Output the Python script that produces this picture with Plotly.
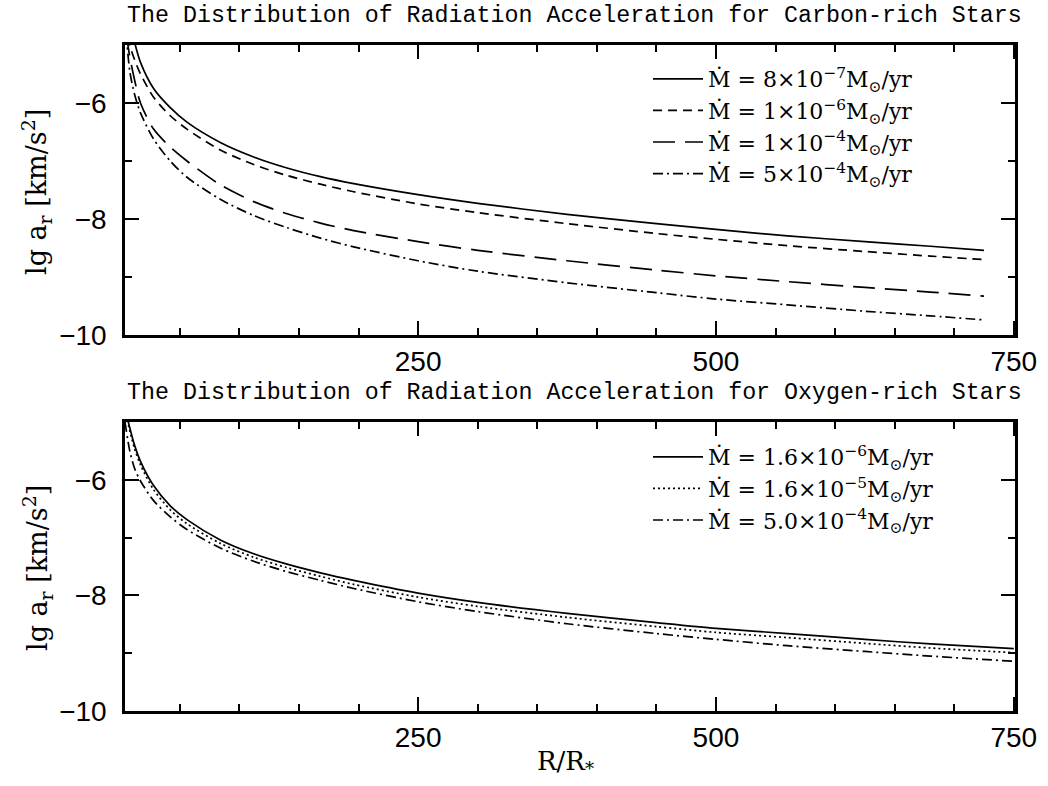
import plotly.graph_objects as go

# ---------------- data ----------------
x_carbon = [5, 8, 12, 17, 28, 42, 56, 84, 112, 140, 168, 196, 250, 300, 375, 450, 500, 560, 625, 680, 725]
c_8e7 = [-4.3, -4.6, -4.95, -5.3, -5.75, -6.08, -6.33, -6.68, -6.93, -7.12, -7.27, -7.39, -7.58, -7.73, -7.92, -8.08, -8.18, -8.29, -8.39, -8.47, -8.54]
c_1e6 = [-4.6, -5.0, -5.25, -5.5, -5.9, -6.22, -6.45, -6.81, -7.06, -7.25, -7.40, -7.53, -7.74, -7.89, -8.08, -8.25, -8.35, -8.46, -8.56, -8.64, -8.70]
c_1e4 = [-4.8, -5.2, -5.6, -6.0, -6.45, -6.76, -7.0, -7.41, -7.70, -7.91, -8.07, -8.20, -8.39, -8.54, -8.72, -8.88, -8.98, -9.08, -9.18, -9.26, -9.33]
c_5e4 = [-4.8, -5.45, -5.85, -6.17, -6.62, -7.0, -7.28, -7.66, -7.94, -8.15, -8.33, -8.48, -8.72, -8.90, -9.10, -9.27, -9.38, -9.48, -9.59, -9.67, -9.74]

x_oxygen = [4, 8, 12, 17, 28, 42, 56, 84, 112, 140, 168, 196, 250, 300, 375, 450, 500, 560, 625, 680, 750]
o_16e6 = [-4.75, -5.1, -5.4, -5.68, -6.1, -6.45, -6.69, -7.04, -7.28, -7.46, -7.61, -7.74, -7.96, -8.12, -8.31, -8.47, -8.57, -8.66, -8.76, -8.84, -8.92]
o_16e5 = [-4.8, -5.15, -5.46, -5.74, -6.17, -6.52, -6.76, -7.10, -7.34, -7.52, -7.67, -7.81, -8.03, -8.19, -8.38, -8.54, -8.64, -8.73, -8.83, -8.91, -8.99]
o_50e4 = [-5.0, -5.5, -5.8, -6.02, -6.36, -6.64, -6.86, -7.18, -7.41, -7.59, -7.74, -7.88, -8.11, -8.28, -8.49, -8.66, -8.76, -8.87, -8.97, -9.05, -9.14]

carbon_labels = [
    "Ṁ = 8×10<sup>−7</sup>M<sub>⊙</sub>/yr",
    "Ṁ = 1×10<sup>−6</sup>M<sub>⊙</sub>/yr",
    "Ṁ = 1×10<sup>−4</sup>M<sub>⊙</sub>/yr",
    "Ṁ = 5×10<sup>−4</sup>M<sub>⊙</sub>/yr",
]
oxygen_labels = [
    "Ṁ = 1.6×10<sup>−6</sup>M<sub>⊙</sub>/yr",
    "Ṁ = 1.6×10<sup>−5</sup>M<sub>⊙</sub>/yr",
    "Ṁ = 5.0×10<sup>−4</sup>M<sub>⊙</sub>/yr",
]
carbon_dash = ["solid", "9px,6px", "22px,10px", "10px,4px,2px,4px"]
oxygen_dash = ["solid", "2px,3px", "10px,4px,2px,4px"]

x_ticks = [250, 500, 750]
y_ticks = [-10, -8, -6]

title_top = "The Distribution of Radiation Acceleration for Carbon-rich Stars"
title_bottom = "The Distribution of Radiation Acceleration for Oxygen-rich Stars"

# ---------------- figure ----------------
fig = go.Figure()
for ys, lab, d in zip([c_8e7, c_1e6, c_1e4, c_5e4], carbon_labels, carbon_dash):
    fig.add_trace(go.Scatter(x=x_carbon, y=ys, mode="lines", name=lab,
                             line=dict(color="black", width=1.7, dash=d, shape="spline", smoothing=0.8),
                             xaxis="x", yaxis="y", legend="legend"))
for ys, lab, d in zip([o_16e6, o_16e5, o_50e4], oxygen_labels, oxygen_dash):
    fig.add_trace(go.Scatter(x=x_oxygen, y=ys, mode="lines", name=lab,
                             line=dict(color="black", width=1.7, dash=d, shape="spline", smoothing=0.8),
                             xaxis="x2", yaxis="y2", legend="legend2"))

W, H = 1048, 786
ml, mr, mt, mb = 125, 33, 45, 75
ph = H - mt - mb
top_dom = [(ph - 290) / ph, 1.0]
bot_dom = [0.0, 289 / ph]

tickfont = dict(family="Liberation Sans, Arial, sans-serif", size=28, color="black")

def xax(anchor):
    return dict(range=[4, 751], tickmode="array", tickvals=x_ticks, ticks="inside", ticklen=14,
                tickwidth=2, tickcolor="black", showline=True, linewidth=2.5, linecolor="black",
                mirror="ticks", showgrid=False, zeroline=False, tickfont=tickfont, anchor=anchor,
                minor=dict(dtick=50, tick0=0, ticks="inside", ticklen=7, tickwidth=1.5, tickcolor="black", showgrid=False))

def yax(dom, anchor):
    return dict(range=[-10, -5], domain=dom, tickmode="array", tickvals=y_ticks, ticks="inside", ticklen=14,
                tickwidth=2, tickcolor="black", showline=True, linewidth=2.5, linecolor="black",
                mirror="ticks", showgrid=False, zeroline=False, tickfont=tickfont, anchor=anchor,
                ticklabelstandoff=10,
                minor=dict(dtick=1, tick0=-10, ticks="inside", ticklen=7, tickwidth=1.5, tickcolor="black", showgrid=False))

serif = "DejaVu Serif, Liberation Serif, serif"
mono = "Liberation Mono, Courier New, monospace"

def py(p):
    # pixel y -> paper y
    return 1 - (p - mt) / ph

def px(p):
    return (p - ml) / (W - ml - mr)

annotations = [
    dict(text=title_top, x=px(125), y=py(16), xref="paper", yref="paper", xanchor="left", yanchor="middle",
         showarrow=False, font=dict(family=mono, size=23.3, color="black")),
    dict(text=title_bottom, x=px(125), y=py(393), xref="paper", yref="paper", xanchor="left", yanchor="middle",
         showarrow=False, font=dict(family=mono, size=23.3, color="black")),
    dict(text="lg a<sub>r</sub> [km/s<sup>2</sup>]", x=px(37), y=py(192), xref="paper", yref="paper",
         xanchor="center", yanchor="middle", textangle=-90, showarrow=False,
         font=dict(family=serif, size=27, color="black")),
    dict(text="lg a<sub>r</sub> [km/s<sup>2</sup>]", x=px(37), y=py(568), xref="paper", yref="paper",
         xanchor="center", yanchor="middle", textangle=-90, showarrow=False,
         font=dict(family=serif, size=27, color="black")),
    dict(text="R/R<sub>*</sub>", x=px(565), y=py(762), xref="paper", yref="paper",
         xanchor="center", yanchor="middle", showarrow=False,
         font=dict(family=serif, size=26, color="black")),
]

legfont = dict(family=serif, size=22, color="black")
fig.update_layout(
    width=W, height=H, margin=dict(l=ml, r=mr, t=mt, b=mb),
    paper_bgcolor="white", plot_bgcolor="white",
    xaxis=xax("y"), yaxis=yax(top_dom, "x"),
    xaxis2=xax("y2"), yaxis2=yax(bot_dom, "x2"),
    annotations=annotations,
    legend=dict(x=px(648), y=py(58), xanchor="left", yanchor="top", xref="paper", yref="paper",
                font=legfont, bgcolor="rgba(0,0,0,0)", tracegroupgap=0, itemwidth=50),
    legend2=dict(x=px(648), y=py(436), xanchor="left", yanchor="top", xref="paper", yref="paper",
                 font=legfont, bgcolor="rgba(0,0,0,0)", tracegroupgap=0, itemwidth=50),
    showlegend=True,
)

fig.write_html("out.html")
